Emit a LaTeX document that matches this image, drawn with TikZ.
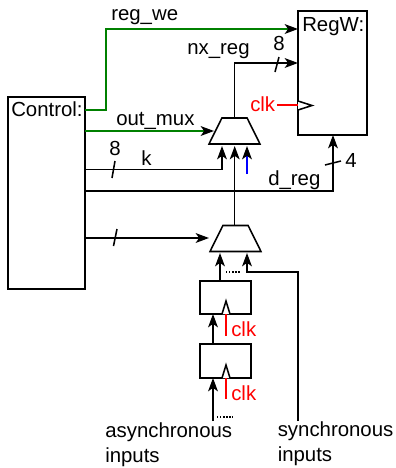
\documentclass[tikz,border=0pt]{standalone}
\usepackage{fontspec}
\setmainfont{Liberation Sans}
\usetikzlibrary{arrows.meta,shapes.geometric}

\definecolor{wiregreen}{RGB}{0,128,0}
\tikzstyle{wire} = [draw,line width=1.1pt]
\tikzstyle{arrowwire} = [wire,-{Stealth[length=9.5pt,width=7pt,inset=2.5pt,black]}]
\tikzstyle{block} = [draw,rectangle,line width=1.2pt,inner sep=0,outer sep=0]
\tikzstyle{muxbox} = [draw,trapezium,trapezium left angle=63,trapezium right angle=63,trapezium stretches=true,minimum width=12.75mm,minimum height=6.5mm,inner sep=1pt,outer sep=0,line width=1.1pt]
\tikzstyle{textlabel} = [inner sep=0,anchor=base west,font=\fontsize{14.5}{17.8}\selectfont]
\tikzstyle{twolines} = [inner sep=0,anchor=north west,align=left,font=\fontsize{14.5}{17.8}\selectfont]
\tikzstyle{slash} = [draw,line width=1.1pt]
\tikzstyle{dotline} = [draw,line width=0.9pt,dash pattern=on 1pt off 1.2pt]

\begin{document}
\begin{tikzpicture}[x=0.25mm,y=-0.25mm]
\useasboundingbox (0,0) rectangle (396,468);
%blocks
\node[block,minimum width=19.25mm,minimum height=48mm] (ctrl) at (46.5,193) {};
\node[block,minimum width=17.25mm,minimum height=31mm] (regw) at (332.5,73) {};
\node[muxbox] (muxa) at (234.5,131) {};
\node[muxbox] (muxb) at (235.5,238.5) {};
\node[block,minimum width=12.75mm,minimum height=8.25mm] (ffa) at (225.5,297.5) {};
\node[block,minimum width=12.75mm,minimum height=8.5mm] (ffb) at (225.5,361) {};

%free ends
\coordinate (muxaleft) at (214,131);
\coordinate (muxak) at (222,146);
\coordinate (muxac) at (234.7,146);
\coordinate (muxad) at (247,146);
\coordinate (muxbleft) at (209,238);
\coordinate (muxba) at (220,253);
\coordinate (muxbd) at (247,253);
\coordinate (bluein) at (247,174);
\coordinate (asyncin) at (213,421);
\coordinate (syncin) at (298,421);

%control wires
\path [arrowwire,wiregreen] (ctrl.east |- 0,110) -- (106,110) -- (106,29) -- (regw.west |- 0,29);
\path [arrowwire,wiregreen] (ctrl.east |- 0,131) -- (muxaleft);
\path [arrowwire] (ctrl.east |- 0,169.5) -- (222,169.5) -- (muxak);
\path [arrowwire] (ctrl.east |- 0,191) -- (333,191) -- (regw.south -| 333,0);
\path [arrowwire] (ctrl.east |- 0,238) -- (muxbleft);

%mux wires
\path [arrowwire] (muxa.top side -| muxac) -- (muxac |- 0,63) -- (regw.west |- 0,63);
\path [arrowwire] (muxb.top side -| muxac) -- (muxac);
\path [arrowwire,blue] (bluein) -- (muxad);
\path [arrowwire] (ffa.north -| muxba) -- (muxba);
\path [arrowwire] (syncin) -- (298,272) -- (247,272) -- (muxbd);
\path [arrowwire] (ffb.north -| 213,0) -- (ffa.south -| 213,0);
\path [arrowwire] (asyncin) -- (ffb.south -| 213,0);

%clock marks
\filldraw[fill=white,line width=1.1pt] (298,101) -- (312,105.5) -- (298,110);
\draw[red,line width=1.1pt] (277,105) -- (298,105);
\filldraw[fill=white,line width=1.1pt] (222,314) -- (226,301) -- (230,314);
\draw[red,line width=1.1pt] (226,314) -- (226,336);
\filldraw[fill=white,line width=1.1pt] (222,378) -- (226,365) -- (230,378);
\draw[red,line width=1.1pt] (226,378) -- (226,399);

%bus slashes
\path [slash] (115,161) -- (112,178);
\path [slash] (117,229) -- (113.5,246);
\path [slash] (279,57) -- (275,72);
\path [slash] (325,165) -- (341,161);

\path [dotline] (226,272) -- (241,272);
\path [dotline] (217,417) -- (233,417);

%labels
\node[textlabel] (ctrltext) at (11,116) {Control:};
\node[textlabel] (regwtext) at (302,31) {RegW:};
\node[textlabel] (regwe) at (111,20) {reg\_we};
\node[textlabel] (nxreg) at (187,54) {nx\_reg};
\node[textlabel] (outmux) at (116,125) {out\_mux};
\node[textlabel] (dreg) at (268,185) {d\_reg};
\node[textlabel] (ktext) at (141,165) {k};
\node[textlabel] (widthk) at (109,155) {8};
\node[textlabel] (widthnx) at (273,50) {8};
\node[textlabel] (widthd) at (345,167) {4};
\node[textlabel,red] (clkreg) at (250,111) {clk};
\node[textlabel,red] (clka) at (231,336) {clk};
\node[textlabel,red] (clkb) at (231,400) {clk};
\node[twolines] (asynctext) at (105,422.5) {asynchronous\\inputs};
\node[twolines] (synctext) at (277.5,421.5) {synchronous\\inputs};
\end{tikzpicture}
\end{document}
